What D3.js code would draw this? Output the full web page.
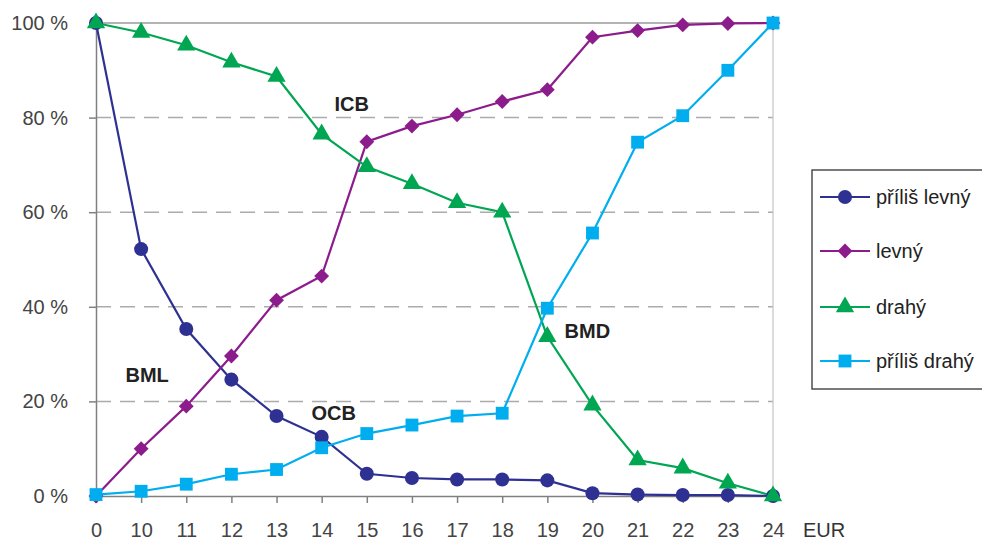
<!DOCTYPE html>
<html>
<head>
<meta charset="utf-8">
<script src="https://cdn.jsdelivr.net/npm/d3@7"></script>
<style>
  body { margin: 0; background: #fff; }
  svg { display: block; font-family: "Liberation Sans", Arial, sans-serif; }
</style>
</head>
<body>
<svg id="chart" width="982" height="541"></svg>
<script>
// Price points (EUR) on the horizontal axis
const prices = ["0", "10", "11", "12", "13", "14", "15", "16", "17", "18", "19", "20", "21", "22", "23", "24"];

// Cumulative share of respondents (%) per price
const prilisLevny  = [100, 52.2, 35.3, 24.6, 16.9, 12.5, 4.7, 3.8, 3.5, 3.5, 3.3, 0.6, 0.3, 0.2, 0.2, 0];
const levny        = [0, 10, 19, 29.6, 41.4, 46.5, 74.9, 78.2, 80.6, 83.4, 85.9, 97, 98.4, 99.6, 99.9, 100];
const drahy        = [100, 98, 95.3, 91.7, 88.7, 76.5, 69.6, 66, 62, 60, 33.7, 19.2, 7.6, 5.9, 2.7, 0];
const prilisDrahy  = [0.3, 1, 2.5, 4.6, 5.6, 10.2, 13.2, 15, 16.9, 17.5, 39.7, 55.6, 74.8, 80.4, 90, 100];

const yTicks = [0, 20, 40, 60, 80, 100];

const series = [
  { name: "příliš levný", values: prilisLevny, color: "#2E3192", symbol: d3.symbolCircle,   size: 155 },
  { name: "levný",        values: levny,       color: "#8C1C8C", symbol: d3.symbolDiamond2, size: 140 },
  { name: "drahý",        values: drahy,       color: "#00A651", symbol: d3.symbolTriangle, size: 145 },
  { name: "příliš drahý", values: prilisDrahy, color: "#00AEEF", symbol: d3.symbolSquare,   size: 165 }
];

// Price-threshold labels, anchored to a price and a share
const notes = [
  { text: "ICB", price: "14", value: 81.5, dx: 30 },
  { text: "BML", price: "10", value: 24,   dx: 6 },
  { text: "OCB", price: "14", value: 16,   dx: 12 },
  { text: "BMD", price: "19", value: 33.5, dx: 40 }
];

const svg = d3.select("#chart");
const plot = { left: 96, right: 773, top: 23, bottom: 496 };
const fontSize = 20;

const x = d3.scalePoint().domain(prices).range([plot.left, plot.right]);
const y = d3.scaleLinear().domain([0, 100]).range([plot.bottom, plot.top]);

// Dashed horizontal gridlines
svg.append("g")
  .selectAll("line")
  .data(yTicks.filter(t => t > 0 && t < 100))
  .join("line")
  .attr("x1", plot.left).attr("x2", plot.right)
  .attr("y1", d => y(d)).attr("y2", d => y(d))
  .attr("stroke", "#ababab").attr("stroke-width", 1.5)
  .attr("stroke-dasharray", "15,9");

// Plot frame: top and right edges
svg.append("line").attr("x1", plot.left).attr("x2", plot.right).attr("y1", y(100)).attr("y2", y(100))
  .attr("stroke", "#9a9a9a").attr("stroke-width", 1.5);
svg.append("line").attr("x1", plot.right).attr("x2", plot.right).attr("y1", plot.top).attr("y2", plot.bottom)
  .attr("stroke", "#c4c4c4").attr("stroke-width", 1.2);

// Y axis
const yAxis = svg.append("g")
  .attr("transform", `translate(${plot.left},0)`)
  .call(d3.axisLeft(y).tickValues(yTicks).tickFormat(d => d + " %").tickSize(7).tickPadding(21));
yAxis.select(".domain").attr("stroke", "#808080").attr("stroke-width", 1.5);
yAxis.selectAll(".tick line").attr("stroke", "#808080").attr("stroke-width", 1.5);
yAxis.selectAll(".tick text")
  .attr("font-size", fontSize).attr("fill", "#444").attr("font-family", "Liberation Sans, Arial, sans-serif");

// X axis
const xAxis = svg.append("g")
  .attr("transform", `translate(0,${plot.bottom})`)
  .call(d3.axisBottom(x).tickSize(7).tickPadding(20));
xAxis.select(".domain").attr("stroke", "#808080").attr("stroke-width", 1.5);
xAxis.selectAll(".tick line").attr("stroke", "#808080").attr("stroke-width", 1.5);
xAxis.selectAll(".tick text")
  .attr("font-size", fontSize).attr("fill", "#444").attr("font-family", "Liberation Sans, Arial, sans-serif");

svg.append("text")
  .attr("x", plot.right + 30).attr("y", plot.bottom + 41)
  .attr("font-size", fontSize).attr("fill", "#333")
  .text("EUR");

// Lines and markers
const line = d3.line().x((d, i) => x(prices[i])).y(d => y(d));

series.forEach(s => {
  svg.append("path")
    .datum(s.values)
    .attr("d", line)
    .attr("fill", "none")
    .attr("stroke", s.color)
    .attr("stroke-width", 2.2);
});

series.forEach(s => {
  svg.append("g")
    .selectAll("path")
    .data(s.values)
    .join("path")
    .attr("d", d3.symbol().type(s.symbol).size(s.size))
    .attr("transform", (d, i) => `translate(${x(prices[i])},${y(d)})`)
    .attr("fill", s.color);
});

// Threshold labels
svg.append("g")
  .selectAll("text")
  .data(notes)
  .join("text")
  .attr("x", d => x(d.price) + d.dx)
  .attr("y", d => y(d.value))
  .attr("text-anchor", "middle")
  .attr("font-size", fontSize).attr("font-weight", "bold").attr("fill", "#222")
  .text(d => d.text);

// Legend
const legend = svg.append("g");
legend.append("rect")
  .attr("x", 812).attr("y", 170).attr("width", 200).attr("height", 219)
  .attr("fill", "#fff").attr("stroke", "#333").attr("stroke-width", 1.3);

const legendRows = [197, 251, 307, 361];
series.forEach((s, i) => {
  const g = legend.append("g").attr("transform", `translate(0,${legendRows[i]})`);
  g.append("line").attr("x1", 820).attr("x2", 870).attr("y1", 0).attr("y2", 0)
    .attr("stroke", s.color).attr("stroke-width", 2.2);
  g.append("path")
    .attr("d", d3.symbol().type(s.symbol).size(s.size))
    .attr("transform", "translate(845,0)")
    .attr("fill", s.color);
  g.append("text")
    .attr("x", 876).attr("y", 7)
    .attr("font-size", fontSize).attr("fill", "#222")
    .text(s.name);
});
</script>
</body>
</html>
